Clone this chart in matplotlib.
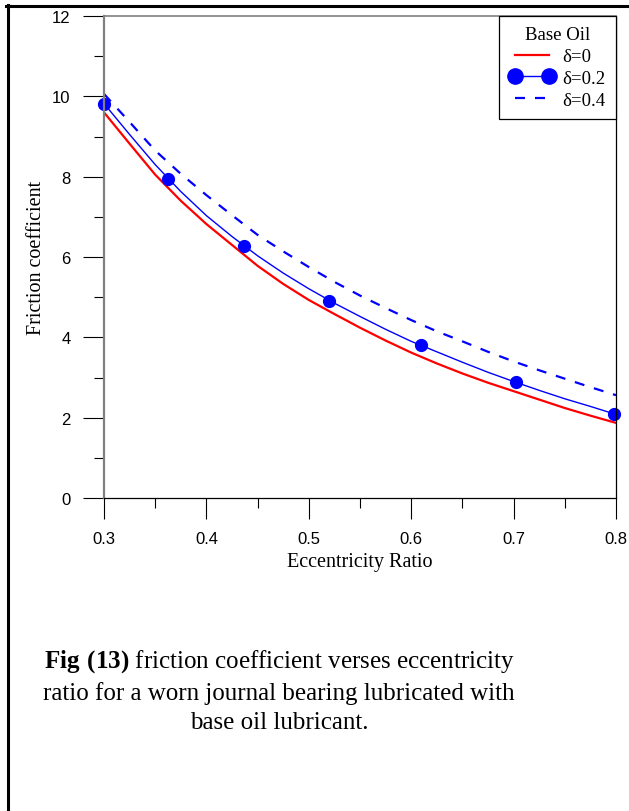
'''
    Friction coefficient vs eccentricity ratio, worn journal bearing, base oil
'''
import matplotlib
matplotlib.use('Agg')
import matplotlib.pyplot as plt
from matplotlib.lines import Line2D
from matplotlib.ticker import MultipleLocator

# eccentricity grid used for the curves
ecc = [0.300, 0.325, 0.350, 0.375, 0.400, 0.425, 0.450, 0.475, 0.500, 0.525, 0.550,
       0.575, 0.600, 0.625, 0.650, 0.675, 0.700, 0.725, 0.750, 0.775, 0.800]

# delta = 0
friction_d0 = [9.60, 8.82, 8.05, 7.40, 6.82, 6.30, 5.78, 5.33, 4.93, 4.58, 4.24,
               3.92, 3.62, 3.35, 3.10, 2.87, 2.66, 2.45, 2.24, 2.05, 1.87]
# delta = 0.2 (line)
friction_d02 = [9.82, 9.05, 8.30, 7.63, 7.03, 6.51, 6.03, 5.60, 5.21, 4.85, 4.52,
                4.20, 3.90, 3.64, 3.38, 3.13, 2.90, 2.68, 2.47, 2.28, 2.08]
# delta = 0.2 (markers)
marker_ecc = [0.300, 0.3628, 0.4364, 0.520, 0.6093, 0.7023, 0.798]
marker_friction = [9.82, 7.93, 6.28, 4.91, 3.80, 2.88, 2.09]
# delta = 0.4
friction_d04 = [10.06, 9.36, 8.65, 8.07, 7.54, 7.04, 6.55, 6.14, 5.75, 5.38, 5.04,
                4.73, 4.43, 4.15, 3.90, 3.64, 3.40, 3.18, 2.97, 2.76, 2.56]

x_ticks = [0.3, 0.4, 0.5, 0.6, 0.7, 0.8]
x_ticklabels = ['0.3', '0.4', '0.5', '0.6', '0.7', '0.8']
y_ticks = [0, 2, 4, 6, 8, 10, 12]
y_ticklabels = ['0', '2', '4', '6', '8', '10', '12']

serif = 'Liberation Serif'
sans = 'Liberation Sans'
plt.rcParams['mathtext.fontset'] = 'custom'
plt.rcParams['mathtext.rm'] = serif
plt.rcParams['mathtext.bf'] = serif + ':bold'

fig = plt.figure(figsize=(6.29, 8.12), dpi=100)
ax = fig.add_axes([104 / 629, 1 - 499 / 812, 512 / 629, 482 / 812])

ax.plot(ecc, friction_d0, color='#ff0000', lw=1.6)
ax.plot(ecc, friction_d02, color='#0000ff', lw=1.0)
ax.plot(marker_ecc, marker_friction, ls='none', marker='o', ms=8.5,
        color='#0000ff', clip_on=False)
ax.plot(ecc, friction_d04, color='#0000ff', lw=1.6, dashes=(4.5, 4.5))

ax.set_xlim(0.3, 0.8)
ax.set_ylim(0, 12)
ax.set_xticks(x_ticks)
ax.set_xticklabels(x_ticklabels, fontfamily=sans)
ax.set_yticks(y_ticks)
ax.set_yticklabels(y_ticklabels, fontfamily=sans)
ax.xaxis.set_minor_locator(MultipleLocator(0.05))
ax.yaxis.set_minor_locator(MultipleLocator(1))
ax.tick_params(which='major', direction='out', length=15, width=0.8, color='black',
               labelsize=12, pad=9)
ax.tick_params(which='minor', direction='out', length=7.5, width=0.8, color='black')

ax.spines['left'].set_color('#808080')
ax.spines['left'].set_linewidth(1.6)
ax.spines['top'].set_color('#808080')
ax.spines['top'].set_linewidth(1.2)
ax.spines['right'].set_color('black')
ax.spines['right'].set_linewidth(0.9)
ax.spines['bottom'].set_color('black')
ax.spines['bottom'].set_linewidth(0.9)

ax.set_xlabel('Eccentricity Ratio', fontfamily=serif, fontsize=14.5, labelpad=4)
ax.set_ylabel('Friction coefficient', fontfamily=serif, fontsize=14.5, labelpad=4)

handles = [
    Line2D([], [], color='#ff0000', lw=1.6),
    Line2D([], [], color='#0000ff', lw=1.0, marker='o', ms=11),
    Line2D([], [], color='#0000ff', lw=1.6, dashes=(4.5, 4.5)),
]
leg = ax.legend(handles, ['δ=0', 'δ=0.2', 'δ=0.4'], title='Base Oil', loc='upper right',
                borderaxespad=0, fancybox=False, framealpha=1, edgecolor='black',
                prop={'family': serif, 'size': 13.5}, numpoints=2,
                handlelength=2.45, handletextpad=0.4, labelspacing=0.25,
                borderpad=0.55)
leg.get_title().set_fontfamily(serif)
leg.get_title().set_fontsize(13.5)
leg.get_frame().set_linewidth(0.9)

# outer frame (left and top edges)
fig.add_artist(Line2D([7.5 / 629, 7.5 / 629], [0, 1 - 6 / 812], color='black', lw=2.2))
fig.add_artist(Line2D([6 / 629, 1], [1 - 7 / 812, 1 - 7 / 812], color='black', lw=2.2))

caption = ('$\\mathbf{Fig\\ (13)}$ friction coefficient verses eccentricity\n'
           'ratio for a worn journal bearing lubricated with\n'
           'base oil lubricant.')
fig.text(279 / 629, 1 - 691 / 812, caption, ha='center', va='center',
         multialignment='center', fontfamily=serif, fontsize=18, linespacing=1.4)

fig.savefig('out.png', dpi=100)
